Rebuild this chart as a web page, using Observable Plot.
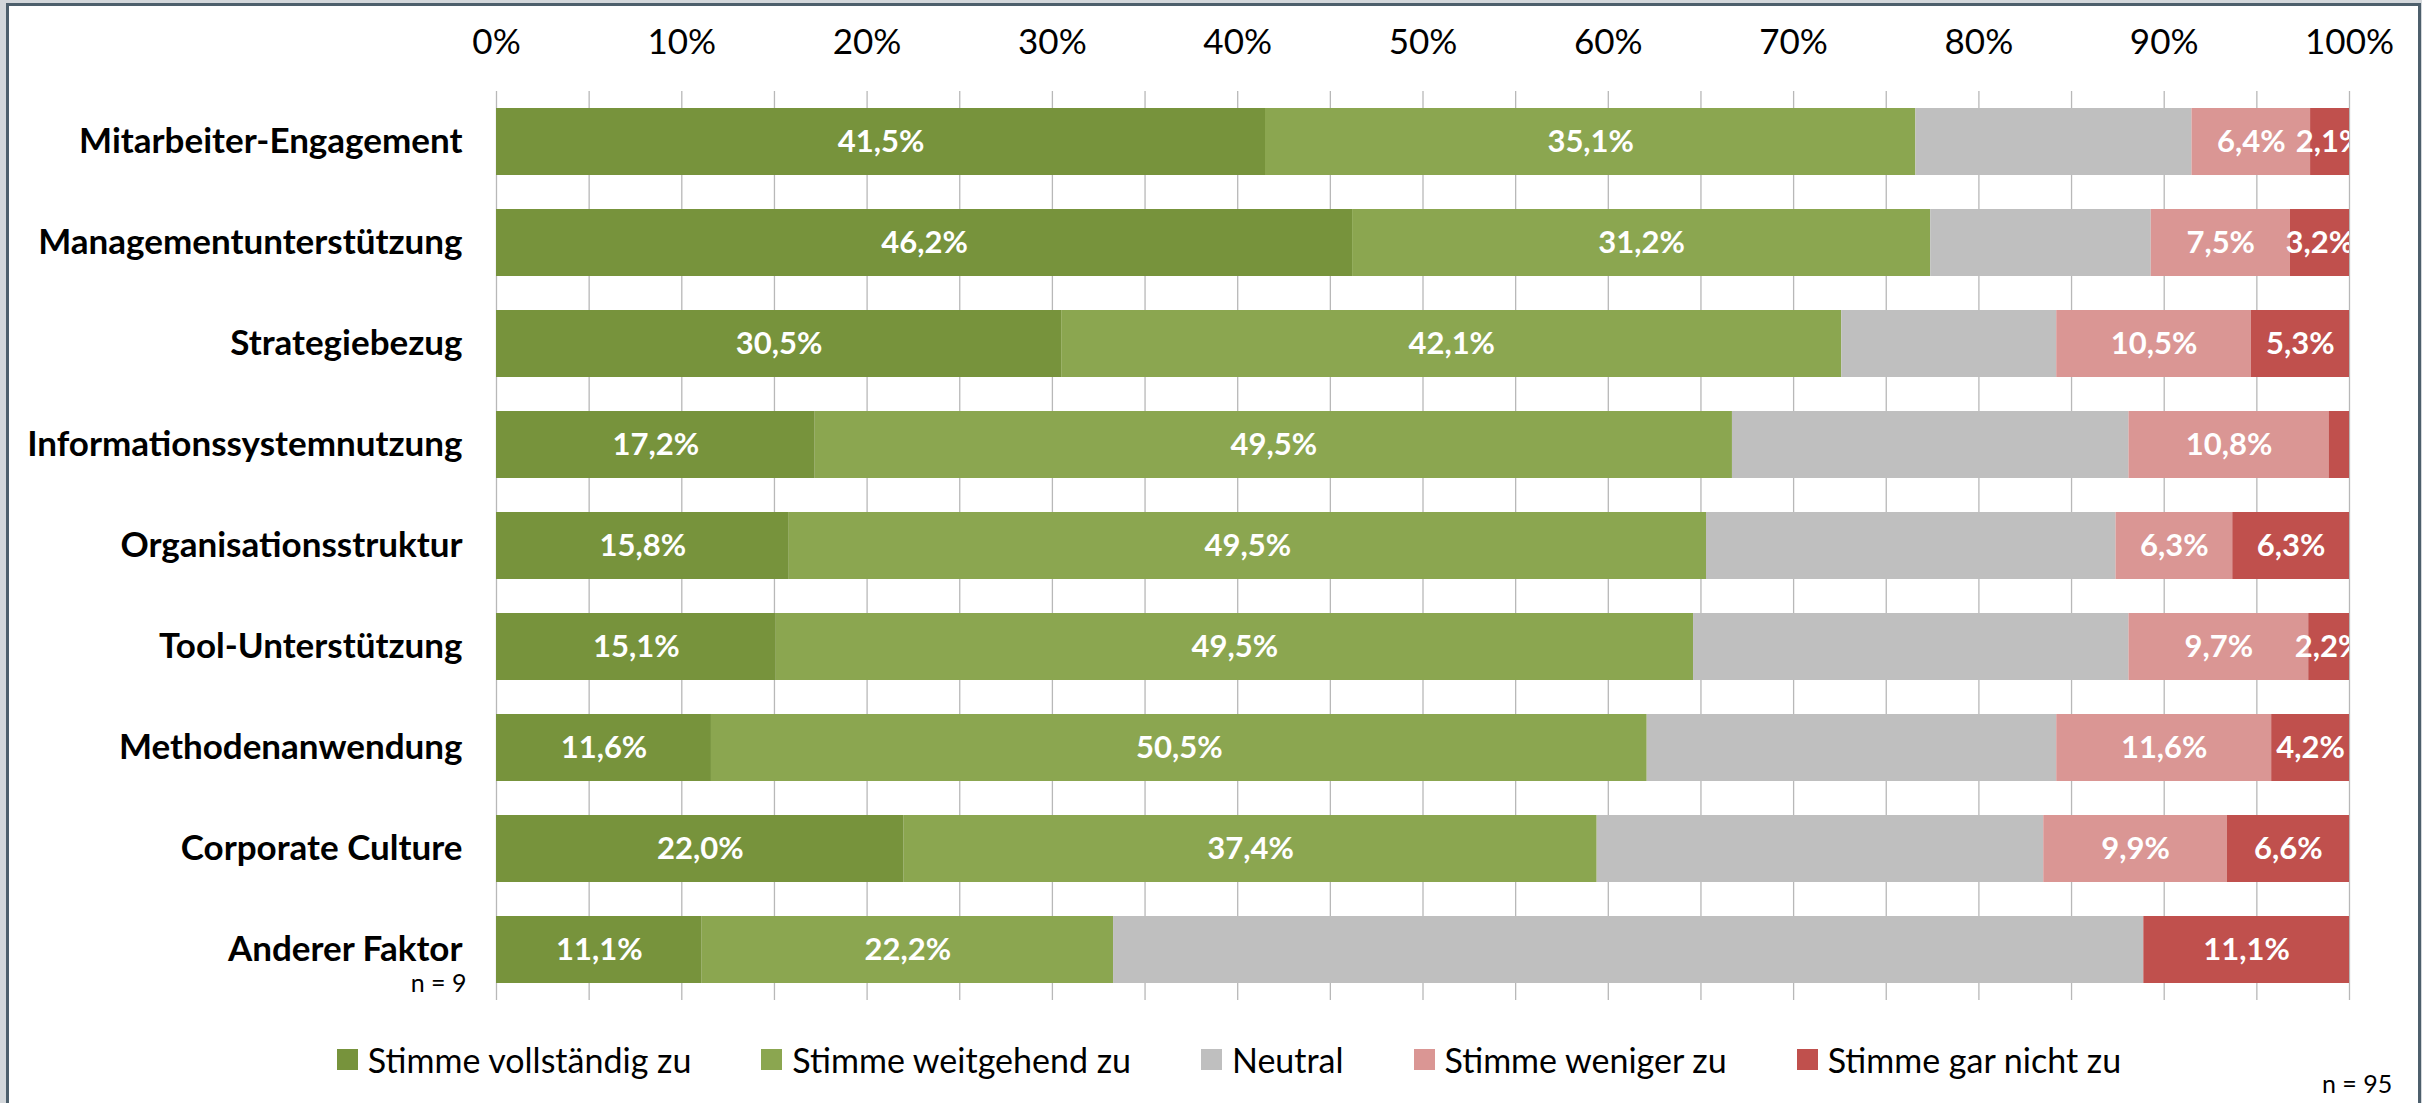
<!DOCTYPE html>
<html>
<head>
<meta charset="utf-8">
<script src="https://cdn.jsdelivr.net/npm/d3@7"></script>
<script src="https://cdn.jsdelivr.net/npm/@observablehq/plot@0.6"></script>
<style>
  html, body { margin: 0; padding: 0; }
  body { width: 2422px; height: 1103px; overflow: hidden; background: #d3d7db; position: relative;
         font-family: Lato, "Liberation Sans", sans-serif; }
  #frame { position: absolute; left: 6px; top: 3px; width: 2409px; height: 1120px; background: #fff;
           border-left: 3px solid #4d5f6c; border-top: 3px solid #4d5f6c; border-right: 3px solid #4d5f6c; }
  #chart { position: absolute; left: 0; top: 0; }
  #chart svg { background: transparent !important; }
  #legend { position: absolute; left: 18px; top: 1039px; width: 2422px; display: flex; justify-content: center;
            align-items: center; gap: 70px; font-size: 34px; color: #000; }
  .item { display: flex; align-items: center; gap: 10px; }
  .sw { width: 21px; height: 21px; display: inline-block; }
  #n95 { position: absolute; left: 2322px; top: 1068px; font-size: 25px; color: #000; }
</style>
</head>
<body>
<div id="frame"></div>
<div id="chart"></div>
<div id="legend"></div>
<div id="n95"></div>
<script>
// ---- data ----
const categories = [
  "Mitarbeiter-Engagement",
  "Managementunterstützung",
  "Strategiebezug",
  "Informationssystemnutzung",
  "Organisationsstruktur",
  "Tool-Unterstützung",
  "Methodenanwendung",
  "Corporate Culture",
  "Anderer Faktor"
];
const responses = [
  "Stimme vollständig zu",
  "Stimme weitgehend zu",
  "Neutral",
  "Stimme weniger zu",
  "Stimme gar nicht zu"
];
const colors = ["#77933c", "#8ba650", "#bfbfbf", "#da9694", "#c0504d"];

const vollstaendig = [41.5, 46.2, 30.5, 17.2, 15.8, 15.1, 11.6, 22.0, 11.1];
const weitgehend   = [35.1, 31.2, 42.1, 49.5, 49.5, 49.5, 50.5, 37.4, 22.2];
const neutral      = [14.9, 11.9, 11.6, 21.4, 22.1, 23.5, 22.1, 24.1, 55.6];
const weniger      = [6.4, 7.5, 10.5, 10.8, 6.3, 9.7, 11.6, 9.9, 0];
const garNicht     = [2.1, 3.2, 5.3, 1.1, 6.3, 2.2, 4.2, 6.6, 11.1];

const xTicks = [0, 10, 20, 30, 40, 50, 60, 70, 80, 90, 100];
const gridTicks = [0, 5, 10, 15, 20, 25, 30, 35, 40, 45, 50, 55, 60, 65, 70, 75, 80, 85, 90, 95, 100];
const notes = [{category: "Anderer Faktor", note: "n = 9"}];
const totalNote = "n = 95";

// ---- table ----
const seriesValues = [vollstaendig, weitgehend, neutral, weniger, garNicht];
const rows = [];
categories.forEach((c, i) => {
  responses.forEach((r, j) => {
    rows.push({category: c, response: r, value: seriesValues[j][i]});
  });
});
const fmt = v => v.toFixed(1).replace(".", ",") + "%";
const labelOf = d => (d.response === "Neutral" || d.value < 2) ? "" : fmt(d.value);

const chart = Plot.plot({
  width: 2422,
  height: 1010,
  marginTop: 91,
  marginBottom: 10,
  marginLeft: 496,
  marginRight: 73,
  style: {fontFamily: 'Lato, "Liberation Sans", sans-serif', color: "#000", background: "transparent"},
  x: {domain: [0, 100], axis: null},
  y: {domain: categories, paddingInner: 0.337, paddingOuter: 0.168, axis: null},
  color: {domain: responses, range: colors},
  marks: [
    Plot.ruleX(gridTicks, {x: d => d, stroke: "#b8b8b8", strokeWidth: 1.3}),
    Plot.barX(rows, Plot.stackX({x: "value", y: "category", fill: "response", order: null})),
    Plot.text(rows, Plot.stackX({x: "value", y: "category", z: "response", order: null,
      text: labelOf, fill: "white", fontWeight: "bold", fontSize: 31, clip: true})),
    Plot.axisX(xTicks, {anchor: "top", tickSize: 0, tickPadding: 38, fontSize: 35,
      tickFormat: d => d + "%", label: null}),
    Plot.axisY(categories, {anchor: "left", tickSize: 0, tickPadding: 34, fontSize: 35,
      fontWeight: "bold", label: null}),
    Plot.text(notes, {y: "category", text: "note", frameAnchor: "left", dx: -30, dy: 34,
      textAnchor: "end", fontSize: 25})
  ]
});
document.getElementById("chart").appendChild(chart);

// ---- legend ----
const legend = document.getElementById("legend");
responses.forEach((r, i) => {
  const it = document.createElement("div");
  it.className = "item";
  const sw = document.createElement("span");
  sw.className = "sw";
  sw.style.background = colors[i];
  const tx = document.createElement("span");
  tx.textContent = r;
  it.appendChild(sw);
  it.appendChild(tx);
  legend.appendChild(it);
});
document.getElementById("n95").textContent = totalNote;
</script>
</body>
</html>
